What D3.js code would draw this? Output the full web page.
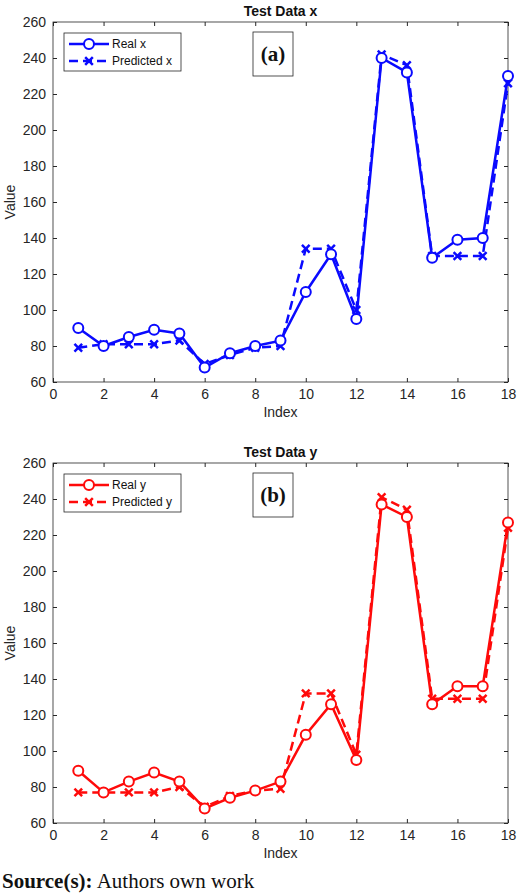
<!DOCTYPE html>
<html>
<head>
<meta charset="utf-8">
<script src="https://cdn.jsdelivr.net/npm/d3@7"></script>
<style>
  body { margin: 0; background: #fff; }
  svg { font-family: Arial, "Liberation Sans", sans-serif; }
</style>
</head>
<body>
<svg id="chart" width="520" height="894"></svg>
<script>
// Data
const indexValues = d3.range(1, 19);
const realX = [90, 80, 85, 89, 87, 68, 76, 80, 83, 110, 131, 95, 240, 232, 129, 139, 140, 230];
const predictedX = [79, 81, 81, 81, 83, 70, 75, 79, 80, 134, 134, 100, 242, 236, 130, 130, 130, 226];
const realY = [89, 77, 83, 88, 83, 68, 74, 78, 83, 109, 126, 95, 237, 230, 126, 136, 136, 227];
const predictedY = [77, 77, 77, 77, 80, 69, 75, 78, 79, 132, 132, 98, 241, 234, 129, 129, 129, 224];
const xTicks = d3.range(0, 19, 2);
const yTicks = d3.range(60, 261, 20);

const svg = d3.select("#chart");

function drawPanel({ top, title, label, color, real, predicted, realName, predName }) {
  const left = 53, right = 508, bottom = top + 360;
  const x = d3.scaleLinear().domain([0, 18]).range([left, right]);
  const y = d3.scaleLinear().domain([60, 260]).range([bottom, top]);
  const g = svg.append("g");

  // frame + ticks (inner ticks on all four sides, MATLAB style)
  g.append("rect").attr("x", left).attr("y", top).attr("width", right - left).attr("height", bottom - top)
    .attr("fill", "none").attr("stroke", "#262626").attr("stroke-width", 0.8);

  const xb = g.append("g").attr("transform", `translate(0,${bottom})`)
    .call(d3.axisBottom(x).tickValues(xTicks).tickSizeInner(-4).tickSizeOuter(0).tickPadding(7));
  const xt = g.append("g").attr("transform", `translate(0,${top})`)
    .call(d3.axisTop(x).tickValues(xTicks).tickSizeInner(-4).tickSizeOuter(0).tickFormat(""));
  const yl = g.append("g").attr("transform", `translate(${left},0)`)
    .call(d3.axisLeft(y).tickValues(yTicks).tickSizeInner(-4).tickSizeOuter(0).tickPadding(7));
  const yr = g.append("g").attr("transform", `translate(${right},0)`)
    .call(d3.axisRight(y).tickValues(yTicks).tickSizeInner(-4).tickSizeOuter(0).tickFormat(""));
  [xb, xt, yl, yr].forEach(a => {
    a.select(".domain").remove();
    a.selectAll("line").attr("stroke", "#262626");
    a.selectAll("text").attr("font-size", 14).attr("fill", "#262626").attr("font-family", "Arial, 'Liberation Sans', sans-serif");
  });

  g.append("text").attr("x", (left + right) / 2).attr("y", top - 6).attr("text-anchor", "middle")
    .attr("font-size", 14).attr("font-weight", "bold").attr("fill", "#111").text(title);
  g.append("text").attr("x", (left + right) / 2).attr("y", bottom + 35).attr("text-anchor", "middle")
    .attr("font-size", 14).attr("fill", "#262626").text("Index");
  g.append("text").attr("transform", `translate(15,${(top + bottom) / 2}) rotate(-90)`).attr("text-anchor", "middle")
    .attr("font-size", 14).attr("fill", "#262626").text("Value");

  const line = d3.line().x((d, i) => x(indexValues[i])).y(d => y(d));

  g.append("path").datum(predicted).attr("d", line).attr("fill", "none").attr("stroke", color)
    .attr("stroke-width", 2.5).attr("stroke-dasharray", "9,5");
  g.append("path").datum(real).attr("d", line).attr("fill", "none").attr("stroke", color).attr("stroke-width", 2.5);

  const cross = d3.symbol().type(d3.symbolX).size(40);
  g.selectAll(".pm").data(predicted).join("path")
    .attr("transform", (d, i) => `translate(${x(indexValues[i])},${y(d)})`)
    .attr("d", cross).attr("stroke", color).attr("stroke-width", 2.5).attr("fill", "none");
  g.selectAll(".rm").data(real).join("circle")
    .attr("cx", (d, i) => x(indexValues[i])).attr("cy", d => y(d)).attr("r", 5)
    .attr("fill", "#fff").attr("stroke", color).attr("stroke-width", 2);

  // legend
  const lg = g.append("g").attr("transform", `translate(64,${top + 11})`);
  lg.append("rect").attr("width", 117).attr("height", 38).attr("fill", "#fff").attr("stroke", "#262626").attr("stroke-width", 0.8);
  lg.append("line").attr("x1", 5).attr("x2", 45).attr("y1", 11).attr("y2", 11).attr("stroke", color).attr("stroke-width", 2.5);
  lg.append("circle").attr("cx", 25).attr("cy", 11).attr("r", 5).attr("fill", "#fff").attr("stroke", color).attr("stroke-width", 2);
  lg.append("line").attr("x1", 5).attr("x2", 45).attr("y1", 28).attr("y2", 28).attr("stroke", color)
    .attr("stroke-width", 2.5).attr("stroke-dasharray", "9,5");
  lg.append("path").attr("transform", "translate(25,28)").attr("d", cross).attr("stroke", color).attr("stroke-width", 2.5);
  lg.append("text").attr("x", 48).attr("y", 15).attr("font-size", 12).attr("fill", "#111").text(realName);
  lg.append("text").attr("x", 48).attr("y", 32).attr("font-size", 12).attr("fill", "#111").text(predName);

  // panel label
  const pl = g.append("g").attr("transform", `translate(253,${top + 10})`);
  pl.append("rect").attr("width", 40).attr("height", 44).attr("fill", "#fff").attr("stroke", "#262626").attr("stroke-width", 0.8);
  pl.append("text").attr("x", 20).attr("y", 29).attr("text-anchor", "middle").attr("font-size", 21)
    .attr("font-weight", "bold").attr("font-family", "'Liberation Serif', 'DejaVu Serif', serif").attr("fill", "#111").text(label);
}

drawPanel({ top: 22, title: "Test Data x", label: "(a)", color: "#0a0aff", real: realX, predicted: predictedX, realName: "Real x", predName: "Predicted x" });
drawPanel({ top: 463, title: "Test Data y", label: "(b)", color: "#ff0a0a", real: realY, predicted: predictedY, realName: "Real y", predName: "Predicted y" });

const src = svg.append("text").attr("x", 2).attr("y", 888).attr("font-size", 21)
  .attr("font-family", "'Liberation Serif', 'DejaVu Serif', serif").attr("fill", "#111");
src.append("tspan").attr("font-weight", "bold").text("Source(s):");
src.append("tspan").text(" Authors own work");
</script>
</body>
</html>
